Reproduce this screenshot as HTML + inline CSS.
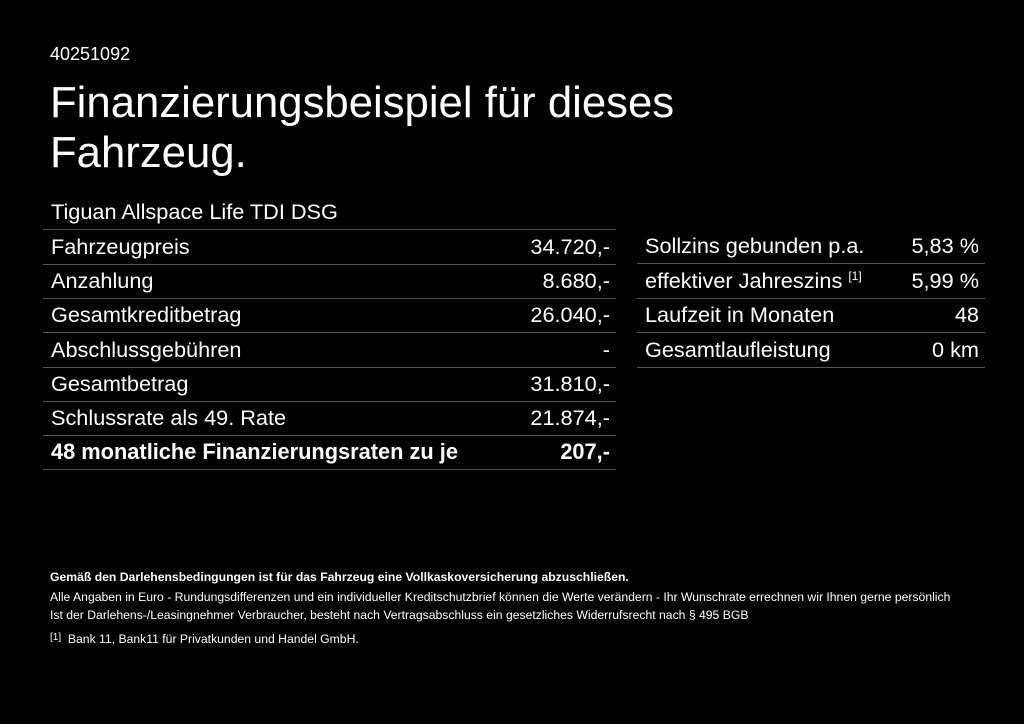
<!DOCTYPE html>
<html><head><meta charset="utf-8"><style>
body{margin:0;width:1024px;height:724px;background:#000;color:#fff;font-family:"Liberation Sans",Arial,sans-serif;position:relative;overflow:hidden}
.a{position:absolute;white-space:nowrap}
.row{position:absolute;height:34px;border-bottom:1px solid #555;font-size:21.7px;line-height:34px}
.row span{position:absolute}
.l{left:8px}.r{right:6px}
.f{font-size:12.2px;left:50px}
</style></head><body>
<div class="a" style="left:50px;top:44px;font-size:18px">40251092</div>
<div class="a" style="left:50px;top:78px;font-size:43.7px;line-height:50px">Finanzierungsbeispiel für dieses<br>Fahrzeug.</div>
<div class="a" style="left:51px;top:199px;font-size:21.7px">Tiguan Allspace Life TDI DSG</div>

<div class="row" style="left:43px;width:573px;top:229px;border-top:1px solid #555"><span class="l">Fahrzeugpreis</span><span class="r">34.720,-</span></div>
<div class="row" style="left:43px;width:573px;top:264px"><span class="l">Anzahlung</span><span class="r">8.680,-</span></div>
<div class="row" style="left:43px;width:573px;top:298px"><span class="l">Gesamtkreditbetrag</span><span class="r">26.040,-</span></div>
<div class="row" style="left:43px;width:573px;top:333px"><span class="l">Abschlussgebühren</span><span class="r">-</span></div>
<div class="row" style="left:43px;width:573px;top:367px"><span class="l">Gesamtbetrag</span><span class="r">31.810,-</span></div>
<div class="row" style="left:43px;width:573px;top:401px"><span class="l">Schlussrate als 49. Rate</span><span class="r">21.874,-</span></div>
<div class="row" style="left:43px;width:573px;top:435px;font-weight:bold;font-size:21.8px"><span class="l">48 monatliche Finanzierungsraten zu je</span><span class="r">207,-</span></div>

<div class="row" style="left:637px;width:348px;top:229px"><span class="l">Sollzins gebunden p.a.</span><span class="r">5,83 %</span></div>
<div class="row" style="left:637px;width:348px;top:264px"><span class="l">effektiver Jahreszins <sup style="font-size:12px;vertical-align:0;position:relative;top:-8px">[1]</sup></span><span class="r">5,99 %</span></div>
<div class="row" style="left:637px;width:348px;top:298px"><span class="l">Laufzeit in Monaten</span><span class="r">48</span></div>
<div class="row" style="left:637px;width:348px;top:333px"><span class="l">Gesamtlaufleistung</span><span class="r">0 km</span></div>

<div class="a f" style="top:570px;font-weight:bold">Gemäß den Darlehensbedingungen ist für das Fahrzeug eine Vollkaskoversicherung abzuschließen.</div>
<div class="a f" style="top:590px">Alle Angaben in Euro - Rundungsdifferenzen und ein individueller Kreditschutzbrief können die Werte verändern - Ihr Wunschrate errechnen wir Ihnen gerne persönlich</div>
<div class="a f" style="top:608px">Ist der Darlehens-/Leasingnehmer Verbraucher, besteht nach Vertragsabschluss ein gesetzliches Widerrufsrecht nach § 495 BGB</div>
<div class="a f" style="top:632px"><span style="font-size:10px;position:relative;top:-3px">[1]</span>&nbsp; Bank 11, Bank11 für Privatkunden und Handel GmbH.</div>
</body></html>
